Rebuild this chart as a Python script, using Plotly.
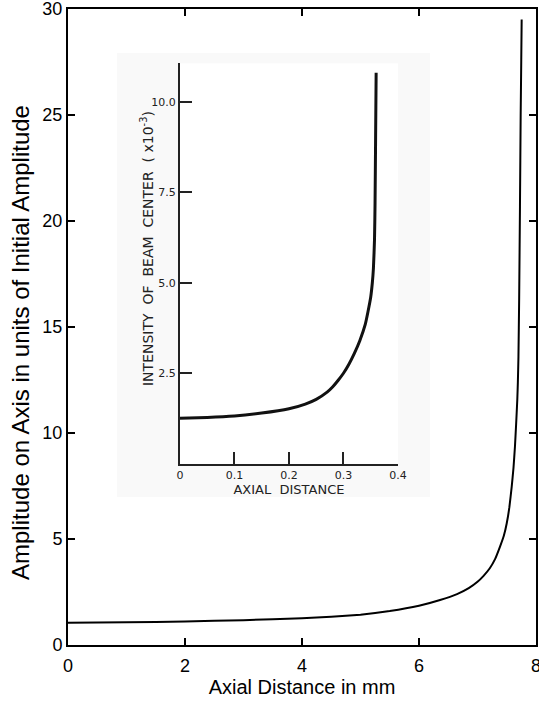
import plotly.graph_objects as go

# Main curve: amplitude on axis vs axial distance (mm)
main_x = [0, 1, 2, 3, 4, 4.5, 5, 5.5, 6, 6.36, 6.65, 6.85, 7.0, 7.1, 7.21, 7.3, 7.385,
          7.45, 7.5, 7.545, 7.585, 7.615, 7.64, 7.66, 7.68, 7.69, 7.70, 7.712, 7.726,
          7.738, 7.748, 7.755]
main_y = [1.05, 1.07, 1.11, 1.17, 1.26, 1.33, 1.43, 1.6, 1.85, 2.12, 2.4, 2.68,
          2.98, 3.25, 3.62, 4.05, 4.64, 5.15, 5.74, 6.5, 7.47, 8.35, 9.35, 10.4, 11.56,
          12.4, 13.6, 16.3, 20.7, 25.0, 27.6, 29.5]

# Inset curve: intensity of beam center vs axial distance
inset_x = [0, 0.05, 0.1, 0.15, 0.2, 0.23, 0.25, 0.27, 0.28, 0.29, 0.3, 0.31, 0.32,
           0.33, 0.34, 0.345, 0.35, 0.353, 0.355, 0.357, 0.358, 0.359, 0.36]
inset_y = [1.26, 1.28, 1.32, 1.4, 1.52, 1.65, 1.78, 1.98, 2.12, 2.3, 2.5, 2.75, 3.05,
           3.4, 3.85, 4.2, 4.6, 5.0, 5.4, 6.2, 7.2, 9.0, 10.8]

main_xticks = [0, 2, 4, 6, 8]
main_yticks = [0, 5, 10, 15, 20, 25, 30]
inset_xticks = [0, 0.1, 0.2, 0.3, 0.4]
inset_xtick_text = ["0", "0.1", "0.2", "0.3", "0.4"]
inset_yticks = [2.5, 5.0, 7.5, 10.0]
inset_ytick_text = ["2.5", "5.0", "7.5", "10.0"]

MAIN_FONT = "Liberation Sans, Arial, sans-serif"
INSET_FONT = "DejaVu Sans, sans-serif"

fig = go.Figure()
fig.add_trace(go.Scatter(x=main_x, y=main_y, mode="lines",
                         line=dict(color="black", width=2, shape="spline", smoothing=0.3),
                         xaxis="x", yaxis="y", showlegend=False, hoverinfo="skip"))
fig.add_trace(go.Scatter(x=inset_x, y=inset_y, mode="lines",
                         line=dict(color="#111111", width=3, shape="spline", smoothing=0.5),
                         xaxis="x2", yaxis="y2", showlegend=False, hoverinfo="skip"))

fig.update_layout(
    width=539, height=702,
    margin=dict(l=68, r=3, t=9, b=57),
    paper_bgcolor="white", plot_bgcolor="white",
    showlegend=False,
    xaxis=dict(domain=[0, 1], range=[0, 8], tickvals=main_xticks, automargin=False,
               ticks="inside", ticklen=7, tickwidth=2, tickcolor="black",
               showline=True, linewidth=2, linecolor="black", mirror="ticks",
               showgrid=False, zeroline=False, ticklabeloverflow="allow",
               tickfont=dict(family=MAIN_FONT, size=18, color="black"),
               ticklabelstandoff=3,
               title=dict(text="Axial Distance in mm", standoff=2,
                          font=dict(family=MAIN_FONT, size=20, color="black"))),
    yaxis=dict(domain=[0, 1], range=[0, 30], tickvals=main_yticks, automargin=False,
               ticks="inside", ticklen=7, tickwidth=2, tickcolor="black",
               showline=True, linewidth=2, linecolor="black", mirror="ticks",
               showgrid=False, zeroline=False, ticklabeloverflow="allow",
               tickfont=dict(family=MAIN_FONT, size=18, color="black")),
    xaxis2=dict(domain=[0.2393, 0.705], anchor="y2", range=[0, 0.4], automargin=False,
                tickvals=inset_xticks, ticktext=inset_xtick_text,
                ticks="inside", ticklen=12, tickwidth=1.5, tickcolor="#222",
                showline=True, linewidth=2, linecolor="#222",
                showgrid=False, zeroline=False,
                tickfont=dict(family=INSET_FONT, size=11, color="#222"),
                title=dict(text="AXIAL  DISTANCE", standoff=4,
                           font=dict(family=INSET_FONT, size=13, color="#222"))),
    yaxis2=dict(domain=[0.2849, 0.9146], anchor="x2", range=[0, 11.06], automargin=False,
                tickvals=inset_yticks, ticktext=inset_ytick_text,
                ticks="inside", ticklen=12, tickwidth=1.5, tickcolor="#222",
                showline=True, linewidth=2, linecolor="#222",
                showgrid=False, zeroline=False,
                tickfont=dict(family=INSET_FONT, size=11, color="#222")),
    annotations=[
        dict(text="Amplitude on Axis in units of Initial Amplitude",
             xref="paper", yref="paper", x=-0.1026, y=0.4764,
             xanchor="center", yanchor="middle", textangle=-90, showarrow=False,
             font=dict(family=MAIN_FONT, size=24, color="black")),
        dict(text="INTENSITY  OF  BEAM  CENTER  ( x10<sup>-3</sup>)",
             xref="paper", yref="paper", x=0.1688, y=0.6242,
             xanchor="center", yanchor="middle", textangle=-90, showarrow=False,
             font=dict(family=INSET_FONT, size=14, color="#222")),
    ],
    shapes=[dict(type="rect", xref="paper", yref="paper",
                 x0=0.1047, x1=0.7735, y0=0.2327, y1=0.931,
                 fillcolor="#f9f9f9", line=dict(width=0), layer="below")],
)

fig.write_html("out.html", config={"displayModeBar": False},
               post_script="document.body.style.margin='0';")
